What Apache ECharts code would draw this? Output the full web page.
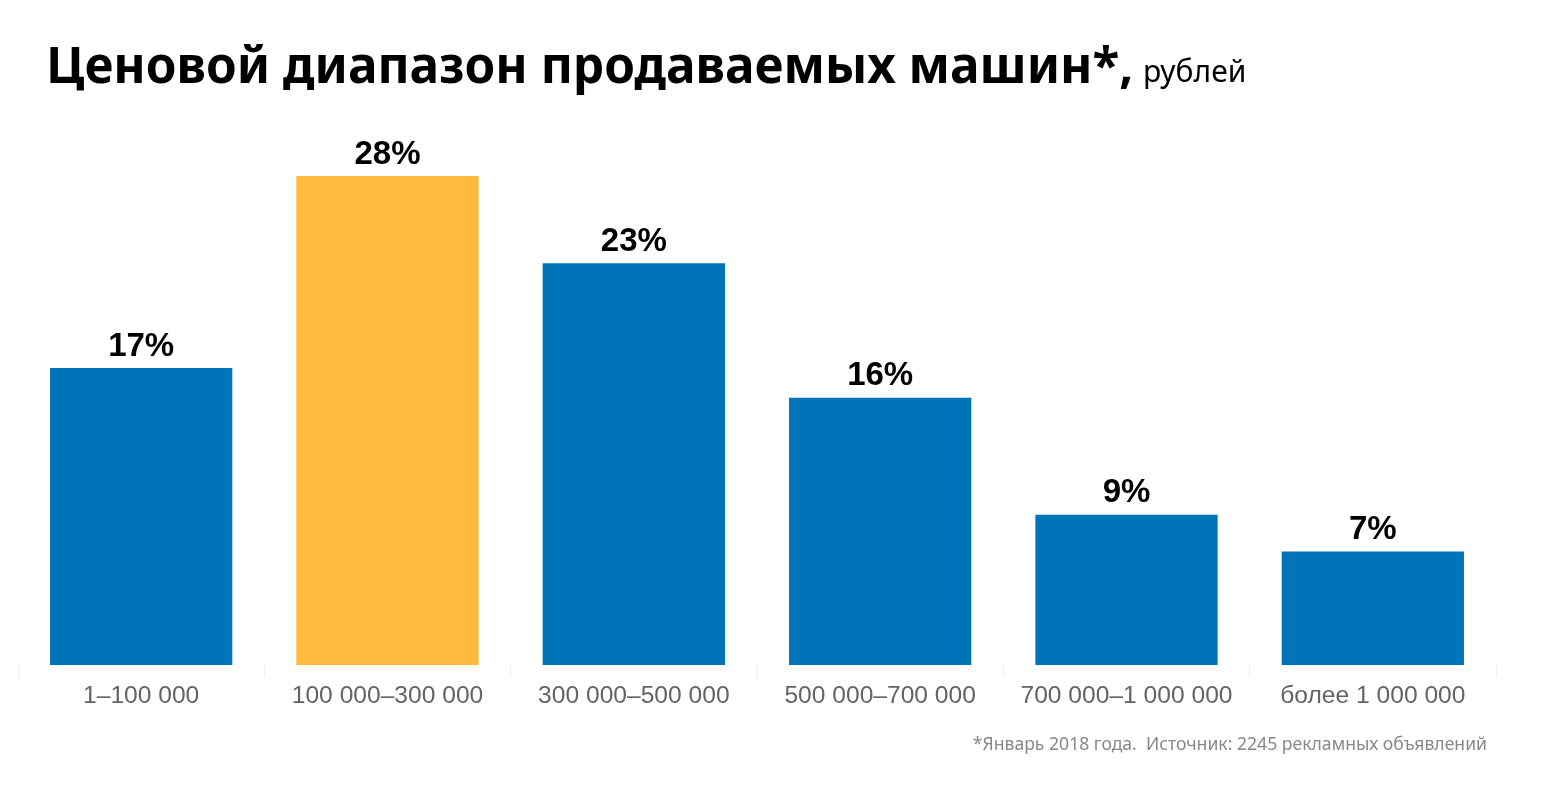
<!DOCTYPE html>
<html>
<head>
<meta charset="utf-8">
<script src="https://cdn.jsdelivr.net/npm/echarts@6/dist/echarts.min.js"></script>
<style>html,body{margin:0;padding:0;background:#fff}#c{width:1552px;height:802px}</style>
</head>
<body>
<div id="c"></div>
<script>
const categories = ['1–100 000', '100 000–300 000', '300 000–500 000', '500 000–700 000', '700 000–1 000 000', 'более 1 000 000'];
const shares = [17, 28, 23, 15.3, 8.6, 6.5];
const shareLabels = ['17%', '28%', '23%', '16%', '9%', '7%'];
const highlightIndex = 1;
const titleText = 'Ценовой диапазон продаваемых машин*,';
const unitText = 'рублей';
const footnoteText = '*Январь 2018 года.  Источник: 2245 рекламных объявлений';

const BLUE = '#0074b8';
const YELLOW = '#ffba3e';

const chart = echarts.init(document.getElementById('c'), null, {renderer: 'canvas'});
chart.setOption({
  animation: false,
  backgroundColor: '#fff',
  grid: {left: 18, right: 56, top: 176, bottom: 137, containLabel: false},
  xAxis: {
    type: 'category',
    data: categories,
    axisLine: {show: false},
    axisTick: {show: true, interval: 0, length: 12, lineStyle: {color: '#eeeeee', width: 1}},
    axisLabel: {interval: 0, color: '#636363', fontSize: 24.6, fontFamily: 'Liberation Sans', margin: 19}
  },
  yAxis: {
    type: 'value', min: 0, max: 28,
    show: false, splitLine: {show: false}
  },
  series: [{
    type: 'bar',
    data: shares.map((v, i) => ({value: v, itemStyle: {color: i === highlightIndex ? YELLOW : BLUE}})),
    barCategoryGap: '26%',
    label: {
      show: true, position: 'top', distance: 5,
      color: '#000', fontSize: 33, fontWeight: 'bold', fontFamily: 'Liberation Sans',
      formatter: p => shareLabels[p.dataIndex]
    }
  }],
  graphic: [
    {type: 'text', left: 46, top: 44, style: {text: titleText, font: 'bold 49.5px "Noto Sans"', fill: '#000'}},
    {type: 'text', left: 1143, top: 58, style: {text: unitText, font: '30px "Noto Sans"', fill: '#000'}},
    {type: 'text', right: 65, top: 736, style: {text: footnoteText, font: '17.6px "Noto Sans"', fill: '#888'}}
  ]
});
</script>
</body>
</html>
